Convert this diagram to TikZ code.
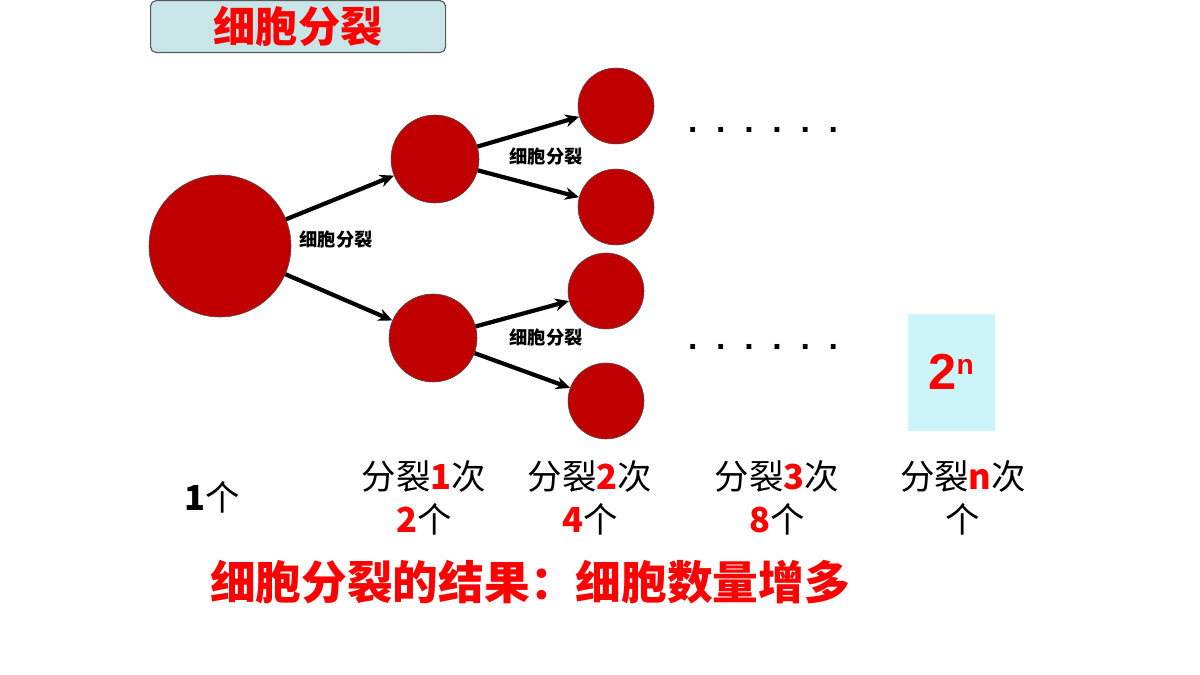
\documentclass[tikz,border=0pt]{standalone}
\usepackage{fontspec}
\usepackage{tikz}
\usetikzlibrary{arrows.meta, positioning}
\newfontfamily\cjk{Noto Sans CJK SC}
\setmainfont{Liberation Sans}
\definecolor{cellred}{RGB}{192,0,0}
\definecolor{titlebg}{RGB}{200,230,232}
\definecolor{powbg}{RGB}{204,245,250}
\definecolor{txtred}{RGB}{255,0,0}

\begin{document}
\begin{tikzpicture}[x=0.025cm, y=-0.025cm,
    cell/.style={circle, draw=black!70, fill=cellred, inner sep=0pt},
    arrow/.style={-{Stealth[length=10pt,width=9pt]}, line width=3pt},
    divlabel/.style={font=\cjk\bfseries\fontsize{13}{15}\selectfont},
    count/.style={align=center, font=\cjk\fontsize{24.5}{31}\selectfont},
    dots/.style={font=\bfseries\fontsize{24}{24}\selectfont}
]
\useasboundingbox (0,0) rectangle (1200,675);

% title
\node[rectangle, rounded corners=4pt, draw=gray!70!black, thick, fill=titlebg,
      minimum width=295*0.025cm, minimum height=52*0.025cm, anchor=north west,
      font=\cjk\bfseries\fontsize{30}{32}\selectfont, text=txtred] (title) at (150,0) {细胞分裂};

% cells
\node[cell, minimum size=142*0.025cm] (c0) at (220,246) {};
\node[cell, minimum size=88*0.025cm] (c1a) at (435,159) {};
\node[cell, minimum size=88*0.025cm] (c1b) at (433,338) {};
\node[cell, minimum size=76*0.025cm] (c2a) at (616,106) {};
\node[cell, minimum size=76*0.025cm] (c2b) at (616,207) {};
\node[cell, minimum size=76*0.025cm] (c2c) at (606,291) {};
\node[cell, minimum size=76*0.025cm] (c2d) at (606,401) {};

\draw[arrow] (c0) -- (c1a);
\draw[arrow] (c0) -- (c1b);
\draw[arrow] (c1a) -- (c2a);
\draw[arrow] (c1a) -- (c2b);
\draw[arrow] (c1b) -- (c2c);
\draw[arrow] (c1b) -- (c2d);

\node[divlabel] (d0) at (336,240) {细胞分裂};
\node[divlabel] (d1) at (546,157) {细胞分裂};
\node[divlabel] (d2) at (546,338) {细胞分裂};

\node[dots] (dotsa) at (763,130) {.\ \ .\ \ .\ \ .\ \ .\ \ .};
\node[dots] (dotsb) at (763,347) {.\ \ .\ \ .\ \ .\ \ .\ \ .};

% 2^n
\node[fill=powbg, minimum width=87*0.025cm, minimum height=117*0.025cm,
      text=txtred, font=\bfseries\fontsize{36}{38}\selectfont] (pow) at (951,372)
      {2\raisebox{0.55ex}{\fontsize{20}{20}\selectfont n}};

% counts
\node[count] (n0) at (212,497) {\textbf{1}个};
\node[count] (n1) at (424,498) {分裂\textcolor{txtred}{\textbf{1}}次\\\textcolor{txtred}{\textbf{2}}个};
\node[count] (n2) at (590,498) {分裂\textcolor{txtred}{\textbf{2}}次\\\textcolor{txtred}{\textbf{4}}个};
\node[count] (n3) at (777,498) {分裂\textcolor{txtred}{\textbf{3}}次\\\textcolor{txtred}{\textbf{8}}个};
\node[count] (n4) at (963,498) {分裂\textcolor{txtred}{\textbf{n}}次\\个};

% result
\node[font=\cjk\bfseries\fontsize{32.5}{36}\selectfont, text=txtred] (result) at (530,582)
      {细胞分裂的结果：细胞数量增多};
\end{tikzpicture}
\end{document}
